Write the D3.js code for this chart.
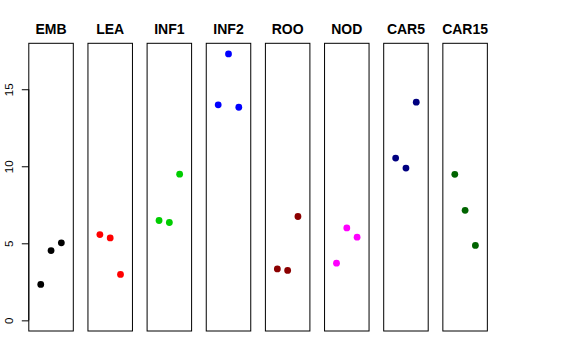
<!DOCTYPE html>
<html><head><meta charset="utf-8">
<script src="https://cdn.jsdelivr.net/npm/d3@7"></script>
<style>body{margin:0;background:#fff}svg{display:block}text{font-family:"Liberation Sans",Arial,sans-serif}</style>
</head><body><svg id="c" width="576" height="360"></svg>
<script>
const categories = ["EMB","LEA","INF1","INF2","ROO","NOD","CAR5","CAR15"];
const colors = ["#000000","#FF0000","#00CD00","#0000FF","#8B0000","#FF00FF","#000080","#006400"];
const values = [
  [2.33, 4.53, 5.03],
  [5.57, 5.35, 2.98],
  [6.48, 6.35, 9.49],
  [13.99, 17.29, 13.83],
  [3.34, 3.24, 6.74],
  [3.71, 6.00, 5.40],
  [10.53, 9.88, 14.16],
  [9.48, 7.14, 4.86]
];
const yTicks = [0, 5, 10, 15];

const svg = d3.select("#c");
const plotTop = 43.3, plotBottom = 331, panelW = 44.5, step = 59.15, left0 = 28.8;
const ymax = d3.max(values.flat());
const pad = 0.04 * ymax;
const y = d3.scaleLinear().domain([-pad, ymax + pad]).range([plotBottom, plotTop]);
const x = d3.scaleLinear().domain([-0.16, 4.16]).range([0, panelW]);

categories.forEach((cat, i) => {
  const g = svg.append("g").attr("transform", `translate(${left0 + i*step},0)`);
  g.append("rect").attr("x", 0).attr("y", plotTop).attr("width", panelW).attr("height", plotBottom - plotTop)
    .attr("fill", "none").attr("stroke", "#000").attr("stroke-width", 1);
  g.append("text").attr("x", panelW/2).attr("y", 34).attr("text-anchor", "middle")
    .attr("font-size", 14).attr("font-weight", "bold").text(cat);
  g.selectAll("circle").data(values[i]).join("circle")
    .attr("cx", (d, j) => x(j + 1)).attr("cy", d => y(d)).attr("r", 3.4)
    .attr("fill", colors[i]);
  if (i === 0) {
    const ax = g.append("g").call(d3.axisLeft(y).tickValues(yTicks).tickSize(7).tickFormat(d3.format("d")));
    ax.select(".domain").attr("d", `M0,${y(0)}V${y(15)}`);
    ax.selectAll(".tick text").attr("font-size", 11.5).attr("font-family", "Liberation Sans, Arial, sans-serif")
      .attr("fill", "#000").attr("text-anchor", "middle")
      .attr("transform", "rotate(-90)").attr("x", 0).attr("y", -16).attr("dy", "0");
    ax.selectAll(".tick line").attr("stroke", "#000");
  }
});
</script></body></html>
